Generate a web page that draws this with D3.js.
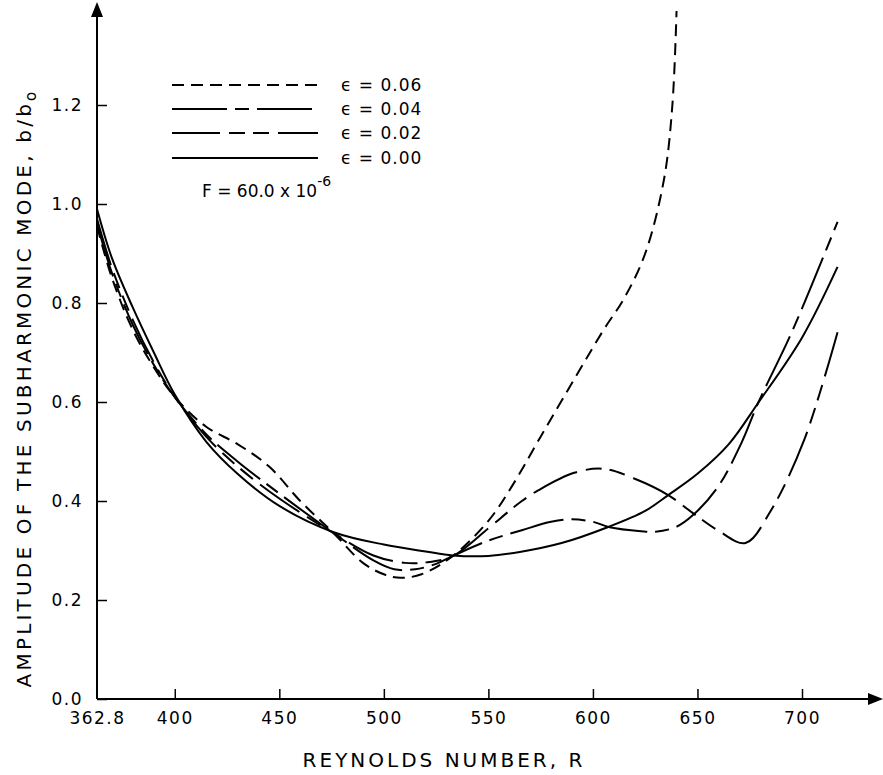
<!DOCTYPE html>
<html>
<head>
<meta charset="utf-8">
<script src="https://cdn.jsdelivr.net/npm/d3@7"></script>
<style>
  body { margin: 0; background: #fff; }
  text { font-family: "DejaVu Sans", sans-serif; fill: #000; }
  .tick text { letter-spacing: 1.5px; }
  .curve { fill: none; stroke: #000; stroke-width: 2; }
</style>
</head>
<body>
<svg class="chart" width="883" height="775"></svg>
<script>
// Data (R = Reynolds number, b = b/b0)
var epsLabels = ['0.06', '0.04', '0.02', '0.00'];
var dashes = ['12,7', '55,8,14,8', '48,9,16,8,16,9', null];

var r006 = [362.8, 370, 380, 390, 400, 415, 430, 445, 460, 476, 490, 500, 508, 518, 533, 550, 561, 575, 593, 605, 615, 625, 634, 638, 640];
var b006 = [0.955, 0.85, 0.745, 0.67, 0.61, 0.55, 0.515, 0.47, 0.40, 0.335, 0.275, 0.252, 0.245, 0.252, 0.289, 0.36, 0.428, 0.53, 0.66, 0.745, 0.81, 0.90, 1.05, 1.20, 1.39];

var r004 = [362.8, 370, 380, 390, 400, 415, 430, 450, 476, 495, 505, 515, 525, 533, 550, 566, 580, 590, 600, 608, 623, 630, 640, 648, 660, 671, 679, 695, 717];
var b004 = [0.96, 0.86, 0.755, 0.675, 0.61, 0.535, 0.48, 0.415, 0.335, 0.28, 0.262, 0.262, 0.273, 0.289, 0.32, 0.341, 0.358, 0.363, 0.358, 0.347, 0.339, 0.338, 0.348, 0.372, 0.43, 0.517, 0.598, 0.74, 0.964];

var r002 = [362.8, 370, 380, 390, 400, 415, 430, 450, 476, 495, 510, 520, 533, 550, 560, 566, 574, 591, 605, 620, 636, 648, 660, 673, 685, 701, 717];
var b002 = [0.97, 0.87, 0.765, 0.68, 0.61, 0.53, 0.47, 0.405, 0.335, 0.29, 0.275, 0.276, 0.289, 0.345, 0.38, 0.40, 0.422, 0.457, 0.465, 0.445, 0.412, 0.375, 0.34, 0.315, 0.38, 0.523, 0.741];

var r000 = [362.8, 370, 380, 390, 400, 415, 430, 450, 476, 500, 520, 533, 550, 565, 585, 607, 625, 636, 650, 665, 679, 700, 717];
var b000 = [0.99, 0.89, 0.79, 0.70, 0.615, 0.52, 0.455, 0.39, 0.337, 0.312, 0.298, 0.29, 0.289, 0.297, 0.315, 0.347, 0.38, 0.412, 0.455, 0.515, 0.598, 0.73, 0.873];

var xTicks = [362.8, 400, 450, 500, 550, 600, 650, 700];
var yTicks = [0, 0.2, 0.4, 0.6, 0.8, 1.0, 1.2];

function zip (rs, bs) {
  return rs.map(function (r, i) { return {r: r, b: bs[i]}; });
}

var series = [zip(r006, b006), zip(r004, b004), zip(r002, b002), zip(r000, b000)];

var svg = d3.select('.chart');

var x = d3.scaleLinear().domain([362.8, 700]).range([97, 802]);
var y = d3.scaleLinear().domain([0, 1.2]).range([699, 105]);

// axes, ticks pointing inward
var xAxis = d3.axisBottom(x)
  .tickValues(xTicks)
  .tickSize(-10)
  .tickPadding(13)
  .tickFormat(function (d) { return d === 362.8 ? '362.8' : d3.format('d')(d); });

var yAxis = d3.axisLeft(y)
  .tickValues(yTicks)
  .tickSize(-10)
  .tickPadding(14)
  .tickFormat(d3.format('.1f'));

var gx = svg.append('g')
  .attr('transform', 'translate(0,' + y(0) + ')')
  .call(xAxis);
gx.select('.domain').remove();
gx.selectAll('.tick line').attr('stroke-width', 1.5)
  .filter(function (d) { return d === 362.8; }).remove();
gx.selectAll('.tick text').attr('font-size', 17);

var gy = svg.append('g')
  .attr('transform', 'translate(' + x(362.8) + ',0)')
  .call(yAxis);
gy.select('.domain').remove();
gy.selectAll('.tick line').attr('stroke-width', 1.5);
gy.selectAll('.tick text').attr('font-size', 17);

// axis lines with arrow heads
svg.append('line')
  .attr('x1', x(362.8)).attr('y1', y(0))
  .attr('x2', 872).attr('y2', y(0))
  .attr('stroke', '#000').attr('stroke-width', 2);
svg.append('path')
  .attr('d', 'M883,' + y(0) + 'L868,' + (y(0) - 6) + 'L868,' + (y(0) + 6) + 'Z');

svg.append('line')
  .attr('x1', x(362.8)).attr('y1', y(0))
  .attr('x2', x(362.8)).attr('y2', 14)
  .attr('stroke', '#000').attr('stroke-width', 2);
svg.append('path')
  .attr('d', 'M' + x(362.8) + ',2L' + (x(362.8) - 6) + ',17L' + (x(362.8) + 6) + ',17Z');

// curves
var line = d3.line()
  .x(function (d) { return x(d.r); })
  .y(function (d) { return y(d.b); })
  .curve(d3.curveCatmullRom.alpha(0.5));

svg.selectAll('.curve')
  .data(series)
  .enter()
  .append('path')
  .attr('class', 'curve')
  .attr('d', line)
  .attr('stroke-dasharray', function (d, i) { return dashes[i]; });

// legend
var legend = svg.append('g');
var legendY = [85, 109, 133, 158];

legend.selectAll('line')
  .data(epsLabels)
  .enter()
  .append('line')
  .attr('x1', 172).attr('x2', 318)
  .attr('y1', function (d, i) { return legendY[i]; })
  .attr('y2', function (d, i) { return legendY[i]; })
  .attr('stroke', '#000').attr('stroke-width', 2)
  .attr('stroke-dasharray', function (d, i) { return dashes[i]; });

legend.selectAll('text')
  .data(epsLabels)
  .enter()
  .append('text')
  .attr('x', 341)
  .attr('y', function (d, i) { return legendY[i] + 6; })
  .attr('font-size', 17)
  .attr('letter-spacing', 1)
  .text(function (d) { return '\u03F5 = ' + d; });

var fLabel = svg.append('text')
  .attr('x', 202).attr('y', 197)
  .attr('font-size', 17);
fLabel.append('tspan').text('F = 60.0 x 10');
fLabel.append('tspan').attr('dy', -11).attr('font-size', 14).text('-6');

// axis titles
svg.append('text')
  .attr('x', 444).attr('y', 767)
  .attr('text-anchor', 'middle')
  .attr('font-size', 20)
  .attr('letter-spacing', 3)
  .text('REYNOLDS NUMBER, R');

var yTitle = svg.append('text')
  .attr('transform', 'translate(31,388) rotate(-90)')
  .attr('text-anchor', 'middle')
  .attr('font-size', 20)
  .attr('letter-spacing', 3.2);
yTitle.append('tspan').text('AMPLITUDE OF THE SUBHARMONIC MODE, b/b');
yTitle.append('tspan').attr('dy', 5).attr('font-size', 15).text('o');
</script>
</body>
</html>
